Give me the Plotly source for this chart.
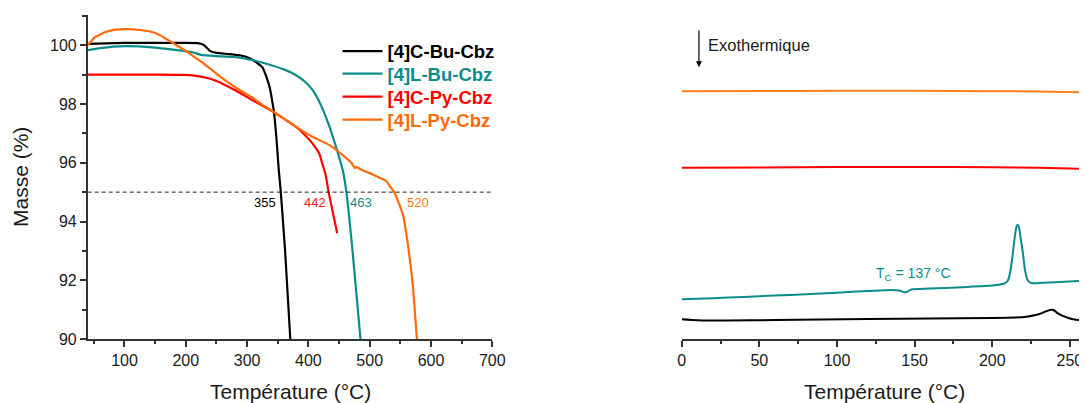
import plotly.graph_objects as go

# ---------------- TGA data (left panel) ----------------
cbu_T = [40, 100, 150, 200, 220, 230, 240, 250, 270, 290, 305, 315, 325, 332, 337, 341, 344, 348, 351.5, 355, 362, 370.5]
cbu_M = [100.05, 100.08, 100.08, 100.08, 100.07, 100.0, 99.8, 99.74, 99.7, 99.65, 99.55, 99.42, 99.25, 98.9, 98.55, 98.1, 97.7, 96.8, 95.8, 95.0, 93.0, 90.0]

lbu_T = [40, 60, 100, 150, 180, 210, 225, 250, 280, 307, 330, 361, 380, 395, 407, 416, 424, 434.5, 445, 456, 462, 472, 485]
lbu_M = [99.83, 99.9, 99.97, 99.92, 99.85, 99.77, 99.67, 99.63, 99.6, 99.5, 99.38, 99.17, 98.98, 98.75, 98.47, 98.15, 97.79, 97.22, 96.54, 95.75, 95.0, 93.0, 90.0]

cpy_T = [40, 100, 150, 200, 220, 240, 255, 272, 290, 307, 326, 345, 360, 380, 395, 405, 418, 423, 428, 433, 440, 447]
cpy_M = [99.0, 99.0, 99.0, 98.99, 98.95, 98.86, 98.74, 98.56, 98.36, 98.15, 97.93, 97.7, 97.5, 97.22, 96.93, 96.7, 96.3, 95.95, 95.6, 95.0, 94.3, 93.6]

lpy_T = [40, 52, 69, 85, 105, 125, 145, 160, 171.5, 185, 199, 212, 226, 240, 253, 266, 280, 293, 307, 320, 334, 356, 380, 405, 434.5, 456, 470, 476, 478, 490, 505, 516, 527, 533, 540, 548, 555, 563.5, 570, 577]
lpy_M = [100.0, 100.28, 100.45, 100.53, 100.55, 100.52, 100.45, 100.32, 100.17, 100.0, 99.83, 99.63, 99.43, 99.2, 98.98, 98.78, 98.58, 98.41, 98.24, 98.05, 97.85, 97.56, 97.22, 96.9, 96.6, 96.26, 96.0, 95.82, 95.86, 95.73, 95.6, 95.49, 95.38, 95.2, 95.0, 94.6, 94.16, 93.03, 91.9, 90.0]

threshold_T = [40, 700]
threshold_M = [95, 95]

names = ["[4]C-Bu-Cbz", "[4]L-Bu-Cbz", "[4]C-Py-Cbz", "[4]L-Py-Cbz"]
td5_values = ["355", "442", "463", "520"]
td5_label_T = [329, 410, 486.5, 578]
td5_label_M = [94.64, 94.64, 94.64, 94.64]

# ---------------- DSC data (right panel, arbitrary units) ----------------
dsc_lpy_T = [0, 50, 100, 150, 200, 230, 261]
dsc_lpy_H = [76.5, 76.55, 76.6, 76.6, 76.5, 76.4, 76.15]

dsc_cpy_T = [0, 50, 100, 150, 200, 230, 261]
dsc_cpy_H = [52.85, 52.95, 53.1, 53.1, 53.0, 52.85, 52.5]

dsc_lbu_T = [0, 20, 40, 60, 80, 100, 120, 135, 140, 143, 144.5, 146, 148, 160, 180, 200, 205, 208, 210, 211.5, 213, 214.5, 215.5, 216.3, 217.2, 218.3, 219.6, 221, 222.5, 224, 226, 240, 261]
dsc_lbu_H = [12.25, 12.6, 13.0, 13.4, 13.8, 14.3, 14.8, 15.15, 15.0, 14.5, 14.4, 14.8, 15.3, 15.55, 16.0, 16.5, 16.8, 17.2, 18.0, 20.5, 25.5, 31.5, 34.5, 35.3, 34.5, 31.0, 27.0, 21.5, 18.5, 17.5, 17.2, 17.5, 18.0]

dsc_cbu_T = [0, 10, 30, 60, 90, 120, 160, 200, 215, 222, 228, 232, 235, 238.2, 240, 242, 245, 249, 253, 261]
dsc_cbu_H = [6.1, 5.8, 5.7, 5.85, 6.0, 6.15, 6.3, 6.5, 6.65, 6.9, 7.4, 8.0, 8.6, 9.0, 8.8, 8.0, 7.2, 6.5, 6.0, 5.6]

colors = ["#000000", "#0A8C8C", "#FF0000", "#FF6A0A"]
label_colors = ["#000000", "#FF1A1A", "#0A8C8C", "#FF7A1A"]
dsc_colors = {"cbu": "#000000", "lbu": "#0A8C8C", "cpy": "#FF0000", "lpy": "#FF7F1A"}

FONT = "Arial, Liberation Sans, sans-serif"
AXC = "#333333"

# page has an 8px body margin: figure is sized/positioned to fill the window
OFF = 8
W, H = 1087 - OFF, 403 - OFF


def px_x(page_x):
    return (page_x - OFF) / W


def px_y(page_y):
    return (403 - page_y) / H


fig = go.Figure()

legend_ids = ["legend", "legend2", "legend3", "legend4"]
tga = [(cbu_T, cbu_M), (lbu_T, lbu_M), (cpy_T, cpy_M), (lpy_T, lpy_M)]
for (T, M), n, c, lg in zip(tga, names, colors, legend_ids):
    fig.add_trace(go.Scatter(
        x=T, y=M, mode="lines", line=dict(color=c, width=2.2, shape="spline", smoothing=0.4),
        name="<b><span style='color:%s'>%s</span></b>" % (c, n), legend=lg,
        xaxis="x", yaxis="y", hoverinfo="skip"))

fig.add_trace(go.Scatter(x=threshold_T, y=threshold_M, mode="lines",
                         line=dict(color="#222222", width=1, dash="4px,3px"),
                         showlegend=False, xaxis="x", yaxis="y"))

for T, Hh, key in [(dsc_lpy_T, dsc_lpy_H, "lpy"), (dsc_cpy_T, dsc_cpy_H, "cpy"),
                   (dsc_lbu_T, dsc_lbu_H, "lbu"), (dsc_cbu_T, dsc_cbu_H, "cbu")]:
    fig.add_trace(go.Scatter(x=T, y=Hh, mode="lines", line=dict(color=dsc_colors[key], width=2, shape="spline", smoothing=0.6),
                             showlegend=False, xaxis="x2", yaxis="y2"))

ydom = [px_y(339), px_y(15)]

axis_common = dict(showline=True, linecolor=AXC, linewidth=1.5, ticks="outside", automargin=False,
                   ticklen=6, tickwidth=1.5, tickcolor=AXC, showgrid=False, zeroline=False,
                   tickfont=dict(family=FONT, size=16, color="#1a1a1a"))

legend_rows_px = [51.5, 74, 97, 120]
leg_common = dict(xanchor="left", yanchor="middle", font=dict(family=FONT, size=18.5),
                  bgcolor="rgba(0,0,0,0)", itemwidth=40, tracegroupgap=0)
legends = {}
for lg, ypx in zip(legend_ids, legend_rows_px):
    legends[lg] = dict(x=px_x(337.5), y=px_y(ypx), **leg_common)

fig.update_layout(
    width=W, height=H,
    margin=dict(l=0, r=0, t=0, b=0),
    paper_bgcolor="white", plot_bgcolor="white",
    font=dict(family=FONT),
    showlegend=True,
    xaxis=dict(domain=[px_x(87.7), px_x(492.3)], range=[40, 700], anchor="y",
               tickvals=[100, 200, 300, 400, 500, 600, 700],
               minor=dict(tickvals=[50, 150, 250, 350, 450, 550, 650], ticklen=3.5, tickwidth=1.5, tickcolor=AXC, ticks="outside"),
               **axis_common),
    yaxis=dict(domain=ydom, range=[90, 101.03], anchor="x",
               tickvals=[90, 92, 94, 96, 98, 100],
               minor=dict(tickvals=[91, 93, 95, 97, 99, 101], ticklen=3.5, tickwidth=1.5, tickcolor=AXC, ticks="outside"),
               **axis_common),
    xaxis2=dict(domain=[px_x(681.7), 1.0], range=[0, 261], anchor="y2",
                tickvals=[0, 50, 100, 150, 200, 250],
                minor=dict(tickvals=[25, 75, 125, 175, 225], ticklen=3.5, tickwidth=1.5, tickcolor=AXC, ticks="outside"),
                **axis_common),
    yaxis2=dict(domain=ydom, range=[0, 100], anchor="x2", visible=False, automargin=False),
    **legends,
)

annotations = []
for v, t, m, c in zip(td5_values, td5_label_T, td5_label_M, label_colors):
    annotations.append(dict(text=v, x=t, y=m, xref="x", yref="y", showarrow=False,
                            font=dict(family=FONT, size=13, color=c), xanchor="center", yanchor="middle"))

# axis titles
annotations.append(dict(text="Masse (%)", x=px_x(21), y=px_y(177), xref="paper", yref="paper",
                        textangle=-90, showarrow=False, font=dict(family=FONT, size=21, color="#1a1a1a"),
                        xanchor="center", yanchor="middle"))
annotations.append(dict(text="Température (°C)", x=px_x(290), y=px_y(391), xref="paper", yref="paper",
                        showarrow=False, font=dict(family=FONT, size=21, color="#1a1a1a"),
                        xanchor="center", yanchor="middle"))
annotations.append(dict(text="Température (°C)", x=px_x(884), y=px_y(391), xref="paper", yref="paper",
                        showarrow=False, font=dict(family=FONT, size=21, color="#1a1a1a"),
                        xanchor="center", yanchor="middle"))

# DSC annotations
annotations.append(dict(text="", x=11.1, y=83.9, ax=11.1, ay=95.7, xref="x2", yref="y2",
                        axref="x2", ayref="y2", showarrow=True, arrowhead=2, arrowsize=1,
                        arrowwidth=1.2, arrowcolor="#000000"))
annotations.append(dict(text="Exothermique", x=15.6, y=90.7, xref="x2", yref="y2", showarrow=False,
                        font=dict(family=FONT, size=16.5, color="#1a1a1a"), xanchor="left", yanchor="middle"))
annotations.append(dict(text="T<sub>C</sub> = 137 °C", x=149, y=20.2, xref="x2", yref="y2", showarrow=False,
                        font=dict(family=FONT, size=14, color="#0A8C8C"), xanchor="center", yanchor="middle"))

fig.update_layout(annotations=annotations)

fig.write_html("out.html")
